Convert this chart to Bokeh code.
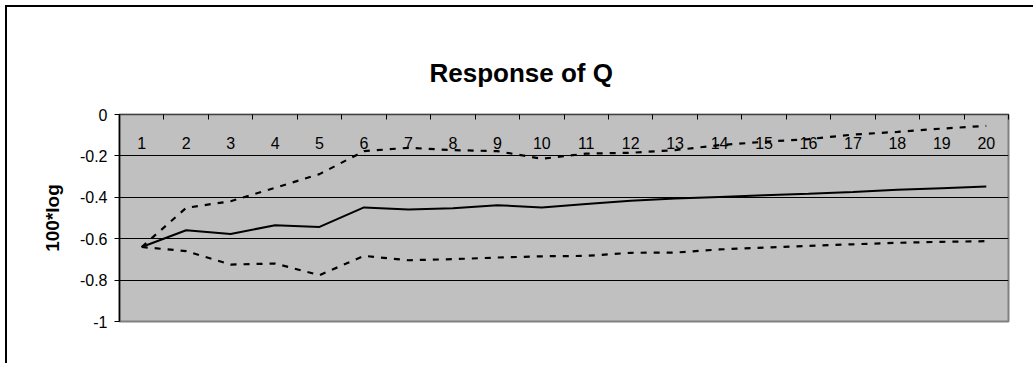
from bokeh.plotting import figure
from bokeh.models import Range1d, FixedTicker, ColumnDataSource
from bokeh.embed import file_html
from bokeh.resources import INLINE

# Impulse response of Q (100*log) over 20 periods, with its error band
periods = list(range(1, 21))
response = [-0.640, -0.559, -0.577, -0.535, -0.543, -0.449, -0.459, -0.453, -0.438, -0.449,
            -0.432, -0.417, -0.406, -0.398, -0.390, -0.383, -0.374, -0.364, -0.356, -0.348]
upper_band = [-0.640, -0.451, -0.419, -0.354, -0.288, -0.177, -0.161, -0.172, -0.177, -0.214,
              -0.189, -0.185, -0.172, -0.148, -0.132, -0.119, -0.097, -0.084, -0.068, -0.055]
lower_band = [-0.640, -0.660, -0.725, -0.720, -0.776, -0.683, -0.704, -0.699, -0.691, -0.685,
              -0.683, -0.668, -0.667, -0.652, -0.643, -0.635, -0.627, -0.620, -0.615, -0.612]
y_ticks = [0, -0.2, -0.4, -0.6, -0.8, -1]
y_tick_labels = ["0", "-0.2", "-0.4", "-0.6", "-0.8", "-1"]

FONT = "Liberation Sans"

source = ColumnDataSource(data=dict(period=periods, response=response,
                                    upper=upper_band, lower=lower_band))

p = figure(width=1028, height=358, output_backend="svg", toolbar_location=None,
           x_axis_location="above",
           x_range=Range1d(periods[0] - 0.5, periods[-1] + 0.5),
           y_range=Range1d(y_ticks[-1], y_ticks[0]),
           min_border_left=112, min_border_right=27,
           min_border_top=107, min_border_bottom=44)
p.margin = (5, 0, 0, 5)
p.styles = {"border-left": "2px solid #000000", "border-top": "2px solid #000000"}

p.title.text = "Response of Q"
p.title.align = "left"
p.title.offset = 310
p.title.standoff = 53
p.title.text_font = FONT
p.title.text_font_size = "26px"
p.title.text_font_style = "bold"
p.title.text_color = "black"

p.background_fill_color = "#C0C0C0"
p.border_fill_color = "white"
p.outline_line_color = "#808080"
p.outline_line_width = 2

# category axis along y = 0, labels sit just under it inside the plot area
xa = p.xaxis[0]
xa.ticker = FixedTicker(ticks=periods,
                        minor_ticks=[t - 0.5 for t in periods] + [periods[-1] + 0.5])
xa.major_tick_in = 0
xa.major_tick_out = 0
xa.minor_tick_in = 5
xa.minor_tick_out = 0
xa.minor_tick_line_color = "black"
xa.axis_line_color = "#404040"
xa.axis_line_width = 1
xa.major_label_standoff = -34
xa.major_label_text_font = FONT
xa.major_label_text_font_size = "16px"
xa.major_label_text_color = "black"

ya = p.yaxis[0]
ya.ticker = FixedTicker(ticks=y_ticks)
ya.major_label_overrides = dict(zip(y_ticks, y_tick_labels))
ya.major_tick_in = 0
ya.major_tick_out = 5
ya.major_tick_line_color = "black"
ya.axis_line_color = "black"
ya.axis_line_width = 1.5
ya.major_label_standoff = 7
ya.major_label_text_font = FONT
ya.major_label_text_font_size = "16px"
ya.major_label_text_color = "black"
ya.axis_label = "100*log"
ya.axis_label_standoff = 14
ya.axis_label_text_font = FONT
ya.axis_label_text_font_size = "19px"
ya.axis_label_text_font_style = "bold"
ya.axis_label_text_color = "black"

p.xgrid.visible = False
p.ygrid.ticker = FixedTicker(ticks=y_ticks)
p.ygrid.grid_line_color = "black"
p.ygrid.grid_line_width = 1

p.line("period", "response", source=source, line_color="black", line_width=2, level="overlay")
p.line("period", "upper", source=source, line_color="black", line_width=2.2,
       line_dash="6 7", level="overlay")
p.line("period", "lower", source=source, line_color="black", line_width=2.2,
       line_dash="6 7", level="overlay")

open("out.html", "w").write(file_html(p, INLINE))
